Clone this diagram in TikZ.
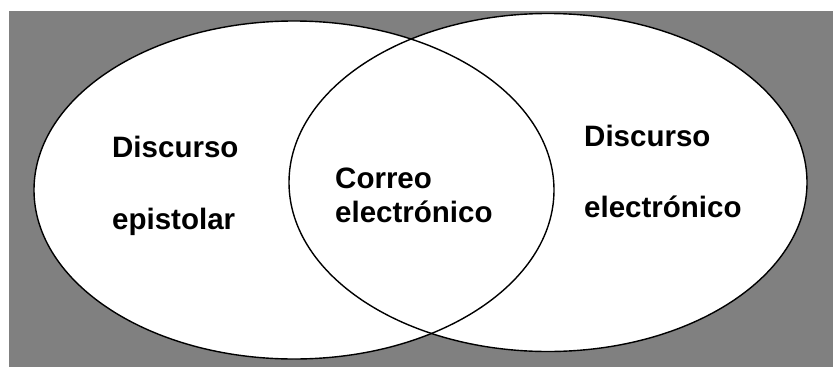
\documentclass[tikz,border=0pt]{standalone}
\usepackage{fontspec}
\setmainfont{Liberation Sans}
\definecolor{bggray}{HTML}{808080}
\begin{document}
\begin{tikzpicture}[x=1pt,y=-1pt,
  venn/.style={draw=black,line width=1.4pt},
  lbl/.style={anchor=base west,inner sep=0pt,font=\fontsize{29.5}{34}\selectfont\bfseries}]
\useasboundingbox (0,0) rectangle (833,367);
\fill[white] (0,0) rectangle (833,367);
\fill[bggray] (9,11) rectangle (833,367);
% fills
\fill[white] (294,190) ellipse [x radius=260, y radius=169];
\fill[white] (548,182.5) ellipse [x radius=259, y radius=169];
% outlines
\draw[venn] (294,190) ellipse [x radius=260, y radius=169];
\draw[venn] (548,182.5) ellipse [x radius=259, y radius=169];
% labels
\node[lbl] (l1) at (112,157) {Discurso};
\node[lbl] (l2) at (112,229) {epistolar};
\node[lbl] (c1) at (335,188) {Correo};
\node[lbl] (c2) at (335,222) {electrónico};
\node[lbl] (r1) at (584,146) {Discurso};
\node[lbl] (r2) at (584,217) {electrónico};
\end{tikzpicture}
\end{document}
